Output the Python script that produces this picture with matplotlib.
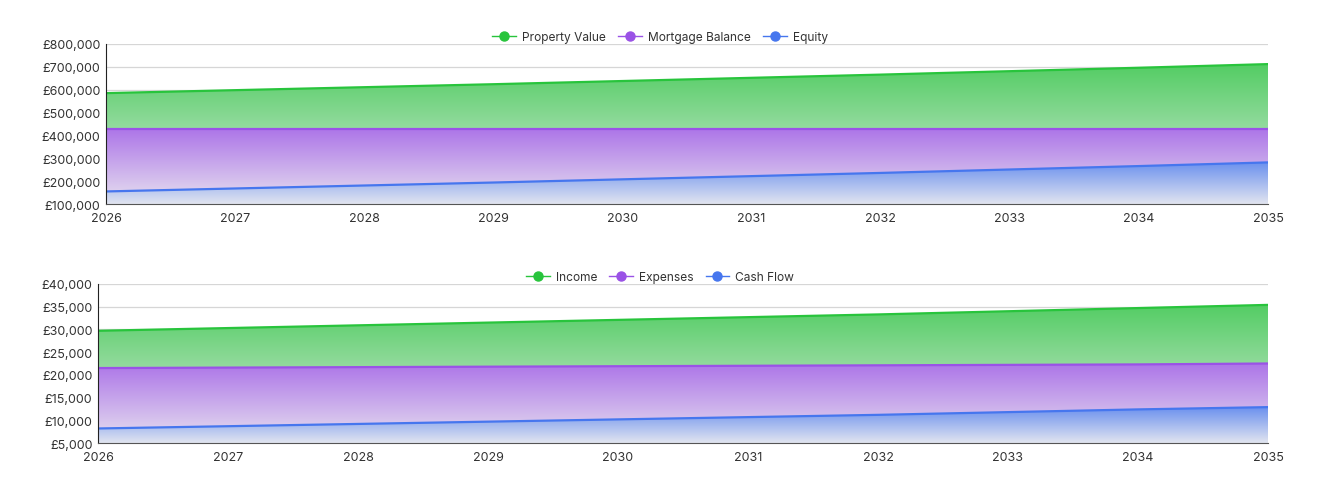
import matplotlib.pyplot as plt
import matplotlib.ticker as mticker
import matplotlib.colors as mcolors
import numpy as np

plt.rcParams['font.family'] = ['Inter', 'DejaVu Sans']

years = [2026, 2027, 2028, 2029, 2030, 2031, 2032, 2033, 2034, 2035]

# top chart
property_value = [585000, 598000, 611000, 624000, 638000, 652000, 666000, 681000, 696000, 712000]
mortgage_balance = [430000, 430000, 430000, 430000, 430000, 430000, 430000, 430000, 430000, 430000]
equity = [155000, 168000, 181000, 194000, 208000, 222000, 236000, 251000, 266000, 282000]

# bottom chart
income = [29700, 30300, 30900, 31500, 32100, 32700, 33300, 34000, 34700, 35400]
expenses = [21500, 21600, 21700, 21800, 21900, 22000, 22100, 22200, 22300, 22500]
cash_flow = [8200, 8700, 9200, 9700, 10200, 10700, 11200, 11800, 12400, 12900]

green = '#28c43c'
purple = '#9a52e6'
blue = '#4676ee'


def gradient_area(ax, x, y, color, ybottom):
    x = np.asarray(x, float)
    y = np.asarray(y, float)
    rgb = np.array(mcolors.to_rgb(color))
    n = 256
    a = np.linspace(0.07, 0.78, n)[:, None]
    img = a * rgb + (1 - a) * np.array([0.93, 0.93, 0.94])
    img = img[:, None, :]
    poly = ax.fill_between(x, y, ybottom, color='none', lw=0)
    im = ax.imshow(img, extent=[x.min(), x.max(), ybottom, y.max()],
                   origin='lower', aspect='auto', zorder=1)
    im.set_clip_path(poly.get_paths()[0], transform=ax.transData)
    ax.plot(x, y, color=color, lw=1.6, zorder=3)


def draw(ax, series, labels, ylo, yhi, ystep, legend_y):
    for vals, c in series:
        gradient_area(ax, years, vals, c, ylo)
    ax.set_xlim(years[0], years[-1])
    ax.set_ylim(ylo, yhi)
    ax.set_xticks(years)
    ax.set_yticks(np.arange(ylo, yhi + 1, ystep))
    ax.yaxis.set_major_formatter(mticker.FuncFormatter(lambda v, p: '£{:,.0f}'.format(v)))
    ax.grid(axis='y', color='#d6d6d6', lw=0.9, zorder=0.5)
    ax.set_axisbelow(True)
    for s in ['top', 'right']:
        ax.spines[s].set_visible(False)
    ax.spines['left'].set_color('#222222')
    ax.spines['bottom'].set_color('#555555')
    ax.spines['left'].set_zorder(4)
    ax.spines['bottom'].set_zorder(4)
    ax.tick_params(length=0, labelsize=9, colors='#333333', pad=4)
    ax.tick_params(axis='x', pad=6)
    handles = [plt.Line2D([], [], color=c, marker='o', markersize=6.5, lw=1)
               for _, c in series]
    ax.legend(handles, labels, loc='center', bbox_to_anchor=(0.5, legend_y),
              bbox_transform=fig.transFigure, ncol=3,
              frameon=False, fontsize=8.6, handlelength=2.0, handletextpad=0.5,
              columnspacing=1.0, borderaxespad=0.0, labelcolor='#333333')


fig = plt.figure(figsize=(13.2, 5.02), dpi=100)
ax1 = fig.add_axes([0.0803, 0.5916, 0.8803, 0.3188])
ax2 = fig.add_axes([0.0742, 0.1155, 0.8864, 0.3168])

draw(ax1, [(property_value, green), (mortgage_balance, purple), (equity, blue)],
     ['Property Value', 'Mortgage Balance', 'Equity'], 100000, 800000, 100000, 0.924)
draw(ax2, [(income, green), (expenses, purple), (cash_flow, blue)],
     ['Income', 'Expenses', 'Cash Flow'], 5000, 40000, 5000, 0.446)

fig.savefig('out.png', dpi=100)
